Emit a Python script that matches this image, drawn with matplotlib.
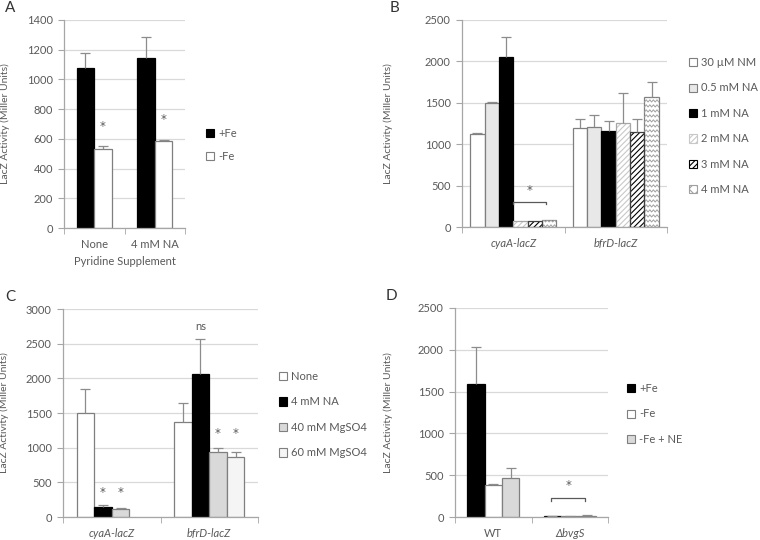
import numpy as np
import matplotlib
matplotlib.use("Agg")
import matplotlib.pyplot as plt
from matplotlib.patches import Patch

plt.rcParams['font.family'] = ['Lato', 'DejaVu Sans']
plt.rcParams['font.size'] = 8
TXT = '#595959'
plt.rcParams['text.color'] = TXT
plt.rcParams['axes.labelcolor'] = TXT
plt.rcParams['xtick.color'] = '#a6a6a6'
plt.rcParams['ytick.color'] = '#a6a6a6'
plt.rcParams['xtick.labelcolor'] = TXT
plt.rcParams['ytick.labelcolor'] = TXT
plt.rcParams['hatch.linewidth'] = 0.8

# ---------------- data ----------------
a_categories = ['None', '4 mM NA']
a_series = ['+Fe', '-Fe']
a_values = [[1075, 1145], [530, 583]]
a_errors = [[100, 140], [25, 12]]

b_categories = ['cyaA-lacZ', 'bfrD-lacZ']
b_series = ['30 µM NM', '0.5 mM NA', '1 mM NA', '2 mM NA', '3 mM NA', '4 mM NA']
b_values = [[1118, 1192], [1500, 1204], [2055, 1163], [70, 1252], [75, 1143], [80, 1572]]
b_errors = [[20, 109], [15, 152], [245, 121], [np.nan, 370], [np.nan, 165], [np.nan, 175]]

c_categories = ['cyaA-lacZ', 'bfrD-lacZ']
c_series = ['None', '4 mM NA', '40 mM MgSO4', '60 mM MgSO4']
c_values = [[1495, 1375], [145, 2064], [120, 931], [np.nan, 859]]
c_errors = [[345, 275], [33, 500], [5, 58], [np.nan, 82]]

d_categories = ['WT', 'ΔbvgS']
d_series = ['+Fe', '-Fe', '-Fe + NE']
d_values = [[1588, 6], [378, 12], [472, 12]]
d_errors = [[440, 3], [22, 5], [112, 8]]

EDGE = '#7f7f7f'
ERR = '#8c8c8c'
GRID = '#d9d9d9'
SPINE = '#a6a6a6'

fig = plt.figure(figsize=(7.6, 5.4), dpi=100)


def px_axes(x0, y0, x1, y1):
    return fig.add_axes([x0 / 760, 1 - y1 / 540, (x1 - x0) / 760, (y1 - y0) / 540])


def style(ax, ymax, ystep, cats, italic=False):
    n = len(cats)
    ax.set_ylim(0, ymax)
    ax.set_yticks(np.arange(0, ymax + 1, ystep))
    ax.set_xlim(-0.5, n - 0.5)
    ax.set_xticks(np.arange(n))
    ax.set_xticklabels(cats, style='italic' if italic else 'normal')
    ax.set_xticks(np.arange(-0.5, n, 1.0), minor=True)
    ax.tick_params(axis='x', which='major', length=0, pad=8)
    ax.tick_params(axis='x', which='minor', length=4, direction='out', color=SPINE)
    ax.tick_params(axis='y', length=4, direction='out', color=SPINE, pad=4)
    ax.yaxis.grid(True, color=GRID, lw=0.9)
    ax.set_axisbelow(True)
    for s in ('top', 'right'):
        ax.spines[s].set_visible(False)
    for s in ('left', 'bottom'):
        ax.spines[s].set_color(SPINE)
        ax.spines[s].set_linewidth(0.9)
    ax.set_ylabel('LacZ Activity (Miller Units)', fontsize=7.5)


def errs(ax, x, vals, err):
    x = np.asarray(x, float); vals = np.asarray(vals, float); err = np.asarray(err, float)
    m = ~np.isnan(err) & ~np.isnan(vals)
    if not m.any():
        return
    x, vals, err = x[m], vals[m], err[m]
    ax.vlines(x, vals, vals + err, color=ERR, lw=0.9, zorder=4)
    ax.plot(x, vals + err, ls='none', marker='_', ms=7, mew=0.9, color=ERR, zorder=4)


def grouped(ax, cats, values, errors, width, styles):
    n = len(values)
    x = np.arange(len(cats))
    containers = []
    for i, (v, e, st) in enumerate(zip(values, errors, styles)):
        xi = x + (i - (n - 1) / 2) * width
        hatch = st.get('hatch')
        if hatch:
            ax.bar(xi, v, width, color=st['fc'], edgecolor=st['hc'], hatch=hatch, lw=0, zorder=2)
            bc = ax.bar(xi, v, width, fill=False, edgecolor=st['ec'], lw=0.9, zorder=3)
        else:
            bc = ax.bar(xi, v, width, color=st['fc'], edgecolor=st['ec'], lw=0.9, zorder=2)
        containers.append(bc)
        errs(ax, xi, v, e)
    return containers


def legend(series, styles, x, y, spacing):
    handles = []
    for s, st in zip(series, styles):
        handles.append(Patch(facecolor=st['fc'], edgecolor=st.get('hc', st['ec']) if st.get('hatch') else st['ec'],
                             hatch=st.get('hatch'), lw=0.8))
    fig.legend(handles, series, loc='upper left', bbox_to_anchor=(x / 760, 1 - y / 540),
               frameon=False, handlelength=0.75, handleheight=0.75, handletextpad=0.35,
               labelspacing=spacing, borderpad=0, borderaxespad=0, fontsize=8)


def star(ax, x, y, s='*'):
    if s == '*':
        ax.text(x, y, s, ha='center', va='center', fontsize=8.5, color=TXT, family='DejaVu Sans')
    else:
        ax.text(x, y, s, ha='center', va='center', fontsize=8, color=TXT)


def bracket(ax, x0, x1, y, drop, star_y):
    ax.plot([x0, x0, x1, x1], [y - drop, y, y, y - drop], color='#595959', lw=0.9, zorder=5)
    star(ax, (x0 + x1) / 2, star_y)


# ---------------- Panel A ----------------
axA = px_axes(64, 20, 185, 228)
stA = [dict(fc='black', ec='black'), dict(fc='white', ec=EDGE)]
grouped(axA, a_categories, a_values, a_errors, 0.29, stA)
style(axA, 1400, 200, a_categories)
axA.set_xlabel('Pyridine Supplement', labelpad=4)
axA.yaxis.set_label_coords(-0.445, 0.5)
for i in range(len(a_categories)):
    star(axA, i + 0.145, a_values[1][i] + 150)
legend(a_series, stA, 206, 128, 1.05)
fig.text(5 / 760, 1 - 8 / 540, 'A', fontsize=11, va='center', ha='left', color='#333333')

# ---------------- Panel B ----------------
axB = px_axes(462, 20, 667, 227)
stB = [dict(fc='white', ec=EDGE),
       dict(fc='#e8e8e8', ec=EDGE),
       dict(fc='black', ec='black'),
       dict(fc='white', ec='#a6a6a6', hatch='//////', hc='#c8c8c8'),
       dict(fc='white', ec='#404040', hatch='//////', hc='black'),
       dict(fc='white', ec=EDGE, hatch=None)]
contB = grouped(axB, b_categories, b_values, b_errors, 0.14, stB)
style(axB, 2500, 500, b_categories, italic=True)
axB.yaxis.set_label_coords(-0.337, 0.5)
# zigzag pattern for the 4 mM NA bars
ppx = 207 / 2500.0
for rect in contB[5]:
    x0, y0 = rect.get_xy(); w = rect.get_width(); h = rect.get_height()
    if not np.isfinite(h) or h <= 0:
        continue
    step = 5.0 / ppx
    amp = 2.2 / ppx
    nteeth = 4
    xs = x0 + np.arange(0, 2 * nteeth + 1) * w / (2 * nteeth)
    for yy in np.arange(y0 - step, y0 + h + step, step):
        ys = yy + np.where(np.arange(len(xs)) % 2 == 0, 0, amp)
        ln, = axB.plot(xs, ys, color='#a0a0a0', lw=0.7, zorder=2.5)
        ln.set_clip_path(rect)
stB_leg = list(stB)
stB_leg[5] = dict(fc='white', ec=EDGE, hatch='xxx', hc='#a0a0a0')
bracket(axB, 0.0, 0.32, 300, 28, 440)
legend(b_series, stB_leg, 689, 57, 1.3)
fig.text(390 / 760, 1 - 8 / 540, 'B', fontsize=11, va='center', ha='left', color='#333333')

# ---------------- Panel C ----------------
axC = px_axes(63, 309, 258, 517)
stC = [dict(fc='white', ec=EDGE), dict(fc='black', ec='black'),
       dict(fc='#d9d9d9', ec=EDGE), dict(fc='#f5f5f5', ec=EDGE)]
grouped(axC, c_categories, c_values, c_errors, 0.18, stC)
style(axC, 3000, 500, c_categories, italic=True)
axC.yaxis.set_label_coords(-0.275, 0.5)
wC = 0.18
for (cat, si, yv) in [(0, 1, 360), (0, 2, 360), (1, 2, 1200), (1, 3, 1200)]:
    star(axC, cat + (si - 1.5) * wC, yv)
star(axC, 1 + (1 - 1.5) * wC, 2750, 'ns')
legend(c_series, stC, 279, 371, 1.3)
fig.text(5 / 760, 1 - 297 / 540, 'C', fontsize=11, va='center', ha='left', color='#333333')

# ---------------- Panel D ----------------
axD = px_axes(455, 308, 608, 517)
stD = [dict(fc='black', ec='black'), dict(fc='white', ec=EDGE), dict(fc='#d9d9d9', ec=EDGE)]
grouped(axD, d_categories, d_values, d_errors, 0.227, stD)
style(axD, 2500, 500, d_categories)
labs = axD.get_xticklabels()
labs[1].set_fontstyle('italic')
axD.yaxis.set_label_coords(-0.405, 0.5)
bracket(axD, 1 - 0.24, 1 + 0.2, 228, 36, 375)
legend(d_series, stD, 627, 383, 1.3)
fig.text(386 / 760, 1 - 296 / 540, 'D', fontsize=11, va='center', ha='left', color='#333333')

fig.savefig('out.png', dpi=100)
